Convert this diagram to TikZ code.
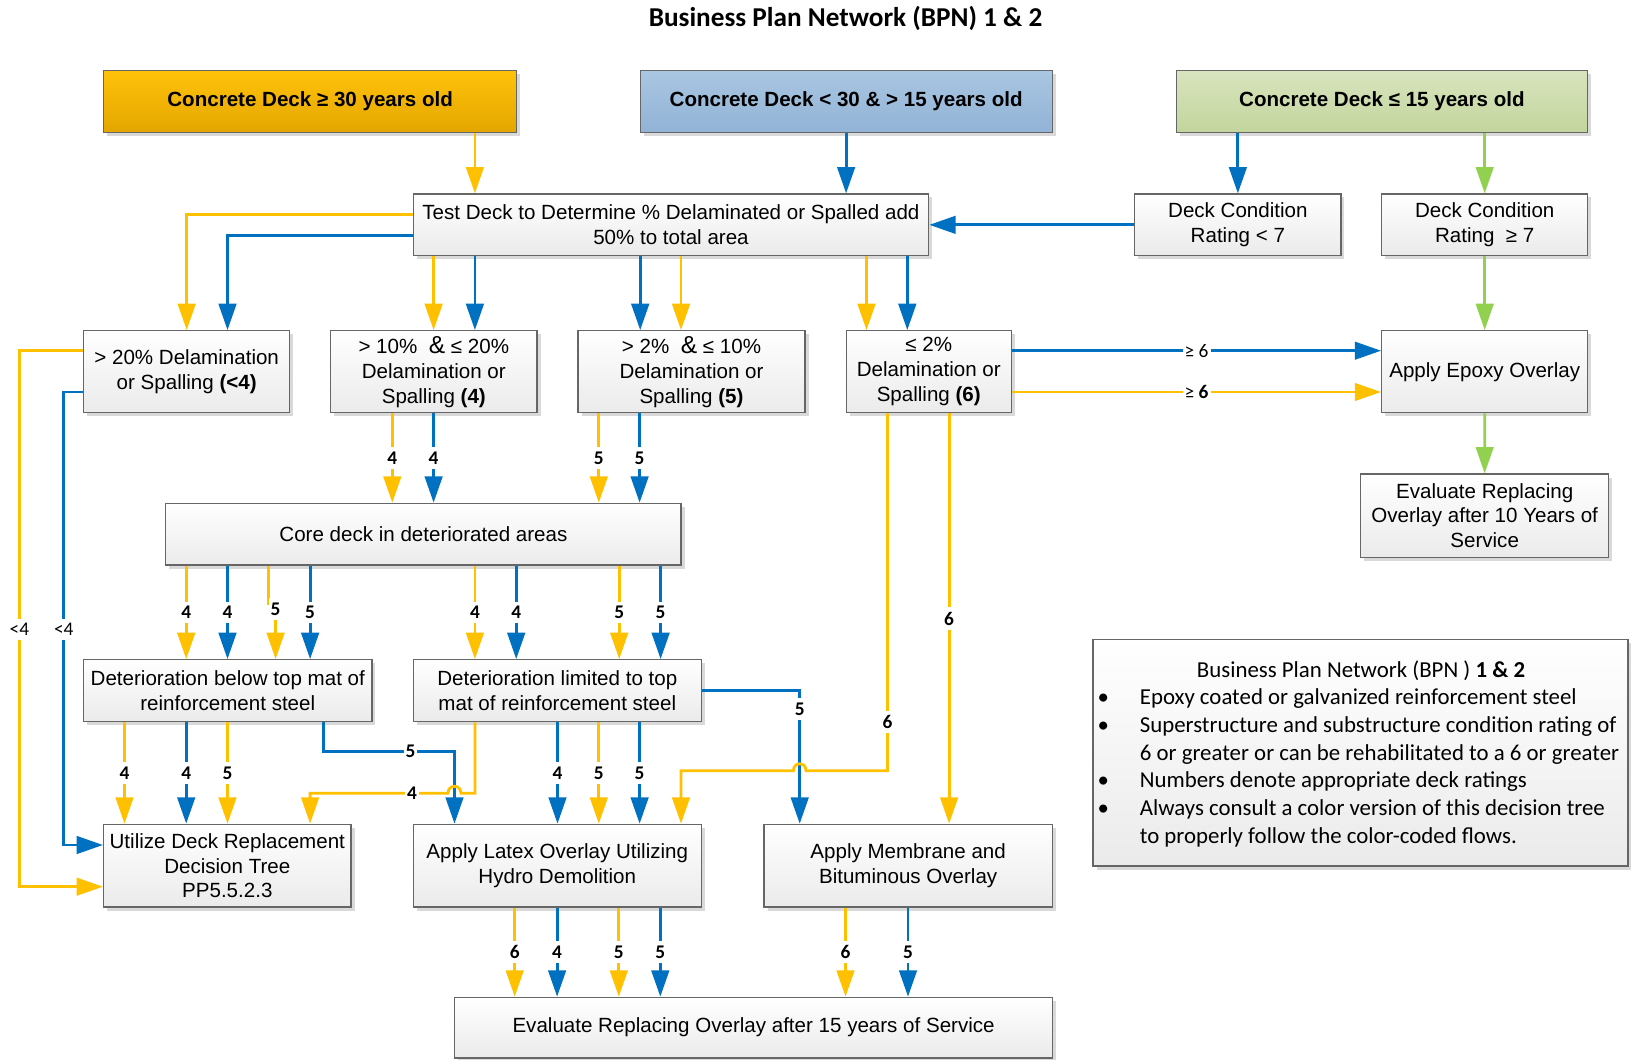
\documentclass[tikz,border=0pt]{standalone}
\usepackage{fontspec}
\setmainfont{Liberation Sans}
\newfontfamily\calfont{Carlito}
\usetikzlibrary{arrows.meta,shadows}
\definecolor{cor}{HTML}{FFC000}
\definecolor{cbl}{HTML}{0070C0}
\definecolor{cgr}{HTML}{92D050}
\definecolor{oTop}{HTML}{FFC20A}
\definecolor{oBot}{HTML}{E3A600}
\definecolor{bTop}{HTML}{A9C6E2}
\definecolor{bBot}{HTML}{92B3D6}
\definecolor{gTop}{HTML}{D8E4BE}
\definecolor{gBot}{HTML}{C3D59D}
\tikzset{
  box/.style={draw=black!60, line width=0.7pt, top color=white, bottom color=black!8,
    drop shadow={shadow xshift=0.07cm, shadow yshift=-0.07cm, fill=black!15, opacity=1},
    align=center, inner sep=0pt, font=\fontsize{11.7}{14.2}\selectfont},
  topA/.style={top color=oTop, bottom color=oBot},
  topB/.style={top color=bTop, bottom color=bBot},
  topC/.style={top color=gTop, bottom color=gBot},
  ln/.style={line width=1.6pt, -{Triangle[length=15pt,width=10pt]}},
  or/.style={ln, draw=cor},
  bl/.style={ln, draw=cbl},
  gr/.style={ln, draw=cgr},
  lbl/.style={fill=white, inner xsep=1pt, inner ysep=2.5pt, text=black, font=\calfont\bfseries\fontsize{11}{12}\selectfont},
  lblr/.style={fill=white, inner xsep=1.2pt, inner ysep=2.5pt, text=black, font=\calfont\fontsize{11}{12}\selectfont},
  leg/.style={inner sep=0pt, font=\calfont\fontsize{13}{15}\selectfont},
}
\newcommand\mkbox[7][]{\node[box,#1,minimum width={(#5-#3)*0.02cm},minimum height={(#6-#4)*0.02cm}] (#2) at ({(#3+#5)/2},{(#4+#6)/2}) {#7};}
\newcommand\va[5]{\draw[#1] (#2.south -| #3,0) -- node[lbl]{#5} (#4.north -| #3,0);}
\newcommand\vb[4]{\draw[#1] (#2.south -| #3,0) -- (#4.north -| #3,0);}
\begin{document}
\begin{tikzpicture}[x=0.02cm,y=-0.02cm]
\useasboundingbox (0,0) rectangle (1631,1060);
\node[font=\calfont\bfseries\fontsize{15.5}{18}\selectfont] (title) at (845.5,18.7) {Business Plan Network (BPN) 1 \& 2};
% boxes
\mkbox[topA]{A}{103.6}{70.7}{516.7}{132.3}{\textbf{Concrete Deck ≥ 30 years old}}
\mkbox[topB]{B}{640.2}{70.7}{1052.2}{132.3}{\textbf{Concrete Deck < 30 \& > 15 years old}}
\mkbox[topC]{C}{1176.1}{70.7}{1587.7}{132.3}{\textbf{Concrete Deck ≤ 15 years old}}
\mkbox{test}{413.2}{194}{928.7}{255.7}{Test Deck to Determine \% Delaminated or Spalled add\\50\% to total area}
\mkbox{r7}{1134.8}{194}{1340.9}{255.7}{Deck Condition\\Rating < 7}
\mkbox{r7b}{1381.7}{194}{1587.7}{255.7}{Deck Condition\\Rating \ ≥ 7}
\mkbox{b20}{83.7}{330.7}{289.7}{412.7}{> 20\% Delamination\\or Spalling \textbf{(<4)}}
\mkbox{b10}{330.5}{330.7}{537.1}{412.7}{> 10\% \ {\fontsize{14}{14}\selectfont\&} ≤ 20\%\\Delamination or\\Spalling \textbf{(4)}}
\mkbox{b5}{578}{330.7}{805}{412.7}{> 2\% \ {\fontsize{14}{14}\selectfont\&} ≤ 10\%\\Delamination or\\Spalling \textbf{(5)}}
\mkbox{b2}{846.1}{330.7}{1011.4}{412.7}{≤ 2\%\\Delamination or\\Spalling \textbf{(6)}}
\mkbox{epoxy}{1381.7}{330.7}{1587.7}{412.7}{Apply Epoxy Overlay}
\mkbox{ev10}{1360.7}{474}{1608.6}{557.3}{Evaluate Replacing\\Overlay after 10 Years of\\Service}
\mkbox{core}{165.8}{503.3}{681}{565}{Core deck in deteriorated areas}
\mkbox{detb}{83.7}{659.7}{371.9}{721.7}{Deterioration below top mat of\\reinforcement steel}
\mkbox{detl}{413.2}{659.7}{701.4}{721.7}{Deterioration limited to top\\mat of reinforcement steel}
\mkbox{util}{103.6}{824.3}{351}{907}{Utilize Deck Replacement\\Decision Tree\\PP5.5.2.3}
\mkbox{latex}{413.2}{824.3}{701.4}{907}{Apply Latex Overlay Utilizing\\Hydro Demolition}
\mkbox{memb}{764.1}{824.3}{1052.2}{907}{Apply Membrane and\\Bituminous Overlay}
\mkbox{final}{454.5}{997.3}{1052.7}{1058}{Evaluate Replacing Overlay after 15 years of Service}
\mkbox{legend}{1093}{639.3}{1628}{866}{}
% legend text
\node[leg, anchor=base] (lt) at (1361,677.3) {Business Plan Network (BPN ) \textbf{1 \& 2}};
\node[leg, anchor=base] (d1) at (1103.4,704) {•};
\node[leg, anchor=base west] (l1) at (1139.5,704) {Epoxy coated or galvanized reinforcement steel};
\node[leg, anchor=base] (d2) at (1103.4,732.3) {•};
\node[leg, anchor=base west] (l2) at (1139.5,732.3) {Superstructure and substructure condition rating of};
\node[leg, anchor=base west] (l3) at (1139.5,760) {6 or greater or can be rehabilitated to a 6 or greater};
\node[leg, anchor=base] (d3) at (1103.4,787.3) {•};
\node[leg, anchor=base west] (l4) at (1139.5,787.3) {Numbers denote appropriate deck ratings};
\node[leg, anchor=base] (d4) at (1103.4,815.7) {•};
\node[leg, anchor=base west] (l5) at (1139.5,815.7) {Always consult a color version of this decision tree};
\node[leg, anchor=base west] (l6) at (1139.5,843.3) {to properly follow the color-coded flows.};
% top connectors
\vb{or}{A}{474.9}{test}
\vb{bl}{B}{846.1}{test}
\draw[bl] (r7.north |- C.south) -- (r7.north);
\draw[gr] (r7b.north |- C.south) -- (r7b.north);
\draw[bl] (r7.west) -- (test.east);
\draw[gr] (r7b.south) -- (epoxy.north);
\draw[gr] (epoxy.south) -- (ev10.north);
% test to level 2
\draw[or] (test.west |- 0,214.3) -| (186.7,0 |- b20.north);
\draw[bl] (test.west |- 0,235.3) -| (227.5,0 |- b20.north);
\vb{or}{test}{433.6}{b10}
\vb{bl}{test}{474.9}{b10}
\vb{bl}{test}{640.2}{b5}
\vb{or}{test}{681.0}{b5}
\vb{or}{test}{866.5}{b2}
\vb{bl}{test}{907.3}{b2}
% <4 paths
\draw[or] (b20.west |- 0,350.7) -- (19.4,350.7) |- (util.west |- 0,886.7);
\draw[bl] (b20.west |- 0,392) -- (63.8,392) |- (util.west |- 0,845);
\node[lblr] (lt1) at (19.4,629.3) {<4};
\node[lblr] (lt2) at (63.8,629.3) {<4};
% level 2 to core
\va{or}{b10}{392.3}{core}{4}
\va{bl}{b10}{433.6}{core}{4}
\va{or}{b5}{598.8}{core}{5}
\va{bl}{b5}{639.6}{core}{5}
% <=2% to epoxy
\draw[bl] (b2.east |- 0,350.7) -- node[lblr]{≥ 6} (epoxy.west |- 0,350.7);
\draw[or] (b2.east |- 0,392) -- node[lblr]{≥ \textbf{6}} (epoxy.west |- 0,392);
\va{or}{b2}{949.1}{memb}{6}
% core to deterioration boxes
\va{or}{core}{186.2}{detb}{4}
\va{bl}{core}{227.5}{detb}{4}
\draw[or] (core.south -| 268.8,0) -- (268.8,604) -- (275.6,604) -- (detb.north -| 275.6,0);
\node[lbl] (l5a) at (275.6,609) {5};
\va{bl}{core}{310.1}{detb}{5}
\va{or}{core}{474.9}{detl}{4}
\va{bl}{core}{516.2}{detl}{4}
\va{or}{core}{619.2}{detl}{5}
\va{bl}{core}{660.6}{detl}{5}
% deterioration below
\va{or}{detb}{124.5}{util}{4}
\va{bl}{detb}{186.2}{util}{4}
\va{or}{detb}{227.5}{util}{5}
\draw[bl] (detb.south -| 323.7,0) -- (323.7,751.7) -- (454.5,751.7) -- (latex.north -| 454.5,0);
\node[lbl] (l5b) at (410.6,751.7) {5};
% deterioration limited
\va{bl}{detl}{557.5}{latex}{4}
\va{or}{detl}{598.8}{latex}{5}
\va{bl}{detl}{639.6}{latex}{5}
\draw[bl] (detl.east |- 0,690.7) -- (799.7,690.7) -- (memb.north -| 799.7,0);
\node[lbl] (l5c) at (799.7,709) {5};
\draw[or] (detl.south -| 474.9,0) -- (474.9,793.3) -- (461,793.3) .. controls (461,784) and (448,784) .. (448,793.3) -- (310.1,793.3) -- (util.north -| 310.1,0);
\node[lbl] (l4a) at (412,793.3) {4};
\draw[or] (b2.south -| 887.4,0) -- (887.4,770.7) -- (806,770.7) .. controls (806,761.5) and (793.4,761.5) .. (793.4,770.7) -- (681,770.7) -- (latex.north -| 681,0);
\node[lbl] (l6a) at (887.4,721.7) {6};
% to final
\va{or}{latex}{514.7}{final}{6}
\va{bl}{latex}{557.1}{final}{4}
\va{or}{latex}{618.8}{final}{5}
\va{bl}{latex}{660.3}{final}{5}
\va{or}{memb}{845.5}{final}{6}
\va{bl}{memb}{908}{final}{5}
\end{tikzpicture}
\end{document}
